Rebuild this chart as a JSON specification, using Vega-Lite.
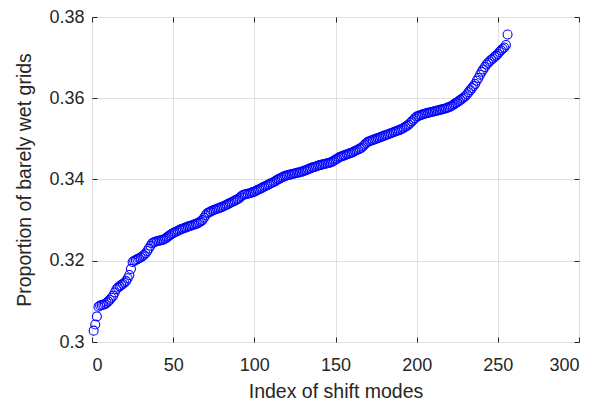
{
  "$schema": "https://vega.github.io/schema/vega-lite/v6.json",
  "width": 487,
  "height": 325,
  "autosize": {"type": "none"},
  "padding": {"left": 92, "top": 17, "right": 27, "bottom": 59},
  "background": "white",
  "config": {
    "view": {"stroke": "#262626", "strokeWidth": 1},
    "font": "Liberation Sans",
    "axis": {
      "domainColor": "#262626",
      "tickColor": "#262626",
      "labelColor": "#262626",
      "titleColor": "#262626",
      "labelFont": "Liberation Sans",
      "titleFont": "Liberation Sans",
      "labelFontSize": 18,
      "titleFontSize": 19.5,
      "titleFontWeight": "normal",
      "gridColor": "#e0e0e0",
      "gridOpacity": 1,
      "tickSize": -5
    }
  },
  "data": {"values": [
{"i":1,"v":0.3028},{"i":2,"v":0.3043},{"i":3,"v":0.3063},{"i":4,"v":0.3087},{"i":5,"v":0.3090},{"i":6,"v":0.3091},{"i":7,"v":0.3092},{"i":8,"v":0.3093},{"i":9,"v":0.3096},{"i":10,"v":0.3100},
{"i":11,"v":0.3104},{"i":12,"v":0.3109},{"i":13,"v":0.3114},{"i":14,"v":0.3122},{"i":15,"v":0.3130},{"i":16,"v":0.3134},{"i":17,"v":0.3137},{"i":18,"v":0.3140},{"i":19,"v":0.3143},{"i":20,"v":0.3146},
{"i":21,"v":0.3150},{"i":22,"v":0.3157},{"i":23,"v":0.3165},{"i":24,"v":0.3180},{"i":25,"v":0.3197},{"i":26,"v":0.3200},{"i":27,"v":0.3202},{"i":28,"v":0.3204},{"i":29,"v":0.3206},{"i":30,"v":0.3208},
{"i":31,"v":0.3211},{"i":32,"v":0.3214},{"i":33,"v":0.3218},{"i":34,"v":0.3224},{"i":35,"v":0.3230},{"i":36,"v":0.3237},{"i":37,"v":0.3243},{"i":38,"v":0.3245},{"i":39,"v":0.3247},{"i":40,"v":0.3248},
{"i":41,"v":0.3249},{"i":42,"v":0.3250},{"i":43,"v":0.3251},{"i":44,"v":0.3252},{"i":45,"v":0.3254},{"i":46,"v":0.3257},{"i":47,"v":0.3260},{"i":48,"v":0.3263},{"i":49,"v":0.3266},{"i":50,"v":0.3268},
{"i":51,"v":0.3270},{"i":52,"v":0.3272},{"i":53,"v":0.3274},{"i":54,"v":0.3276},{"i":55,"v":0.3278},{"i":56,"v":0.3279},{"i":57,"v":0.3281},{"i":58,"v":0.3282},{"i":59,"v":0.3284},{"i":60,"v":0.3285},
{"i":61,"v":0.3286},{"i":62,"v":0.3288},{"i":63,"v":0.3289},{"i":64,"v":0.3291},{"i":65,"v":0.3292},{"i":66,"v":0.3294},{"i":67,"v":0.3297},{"i":68,"v":0.3300},{"i":69,"v":0.3306},{"i":70,"v":0.3312},
{"i":71,"v":0.3317},{"i":72,"v":0.3319},{"i":73,"v":0.3321},{"i":74,"v":0.3323},{"i":75,"v":0.3325},{"i":76,"v":0.3326},{"i":77,"v":0.3328},{"i":78,"v":0.3329},{"i":79,"v":0.3331},{"i":80,"v":0.3332},
{"i":81,"v":0.3334},{"i":82,"v":0.3336},{"i":83,"v":0.3338},{"i":84,"v":0.3340},{"i":85,"v":0.3342},{"i":86,"v":0.3344},{"i":87,"v":0.3346},{"i":88,"v":0.3348},{"i":89,"v":0.3350},{"i":90,"v":0.3352},
{"i":91,"v":0.3355},{"i":92,"v":0.3359},{"i":93,"v":0.3362},{"i":94,"v":0.3363},{"i":95,"v":0.3364},{"i":96,"v":0.3365},{"i":97,"v":0.3366},{"i":98,"v":0.3367},{"i":99,"v":0.3369},{"i":100,"v":0.3370},
{"i":101,"v":0.3372},{"i":102,"v":0.3374},{"i":103,"v":0.3376},{"i":104,"v":0.3378},{"i":105,"v":0.3380},{"i":106,"v":0.3382},{"i":107,"v":0.3384},{"i":108,"v":0.3386},{"i":109,"v":0.3388},{"i":110,"v":0.3390},
{"i":111,"v":0.3392},{"i":112,"v":0.3394},{"i":113,"v":0.3396},{"i":114,"v":0.3399},{"i":115,"v":0.3401},{"i":116,"v":0.3403},{"i":117,"v":0.3405},{"i":118,"v":0.3407},{"i":119,"v":0.3409},{"i":120,"v":0.3410},
{"i":121,"v":0.3411},{"i":122,"v":0.3412},{"i":123,"v":0.3413},{"i":124,"v":0.3414},{"i":125,"v":0.3415},{"i":126,"v":0.3416},{"i":127,"v":0.3417},{"i":128,"v":0.3418},{"i":129,"v":0.3419},{"i":130,"v":0.3420},
{"i":131,"v":0.3422},{"i":132,"v":0.3423},{"i":133,"v":0.3425},{"i":134,"v":0.3427},{"i":135,"v":0.3428},{"i":136,"v":0.3430},{"i":137,"v":0.3431},{"i":138,"v":0.3432},{"i":139,"v":0.3434},{"i":140,"v":0.3435},
{"i":141,"v":0.3436},{"i":142,"v":0.3437},{"i":143,"v":0.3438},{"i":144,"v":0.3439},{"i":145,"v":0.3440},{"i":146,"v":0.3441},{"i":147,"v":0.3442},{"i":148,"v":0.3444},{"i":149,"v":0.3446},{"i":150,"v":0.3449},
{"i":151,"v":0.3451},{"i":152,"v":0.3454},{"i":153,"v":0.3456},{"i":154,"v":0.3457},{"i":155,"v":0.3459},{"i":156,"v":0.3460},{"i":157,"v":0.3462},{"i":158,"v":0.3463},{"i":159,"v":0.3465},{"i":160,"v":0.3466},
{"i":161,"v":0.3468},{"i":162,"v":0.3470},{"i":163,"v":0.3472},{"i":164,"v":0.3474},{"i":165,"v":0.3476},{"i":166,"v":0.3478},{"i":167,"v":0.3482},{"i":168,"v":0.3486},{"i":169,"v":0.3490},{"i":170,"v":0.3493},
{"i":171,"v":0.3494},{"i":172,"v":0.3496},{"i":173,"v":0.3497},{"i":174,"v":0.3499},{"i":175,"v":0.3500},{"i":176,"v":0.3502},{"i":177,"v":0.3503},{"i":178,"v":0.3505},{"i":179,"v":0.3506},{"i":180,"v":0.3508},
{"i":181,"v":0.3509},{"i":182,"v":0.3511},{"i":183,"v":0.3512},{"i":184,"v":0.3514},{"i":185,"v":0.3515},{"i":186,"v":0.3517},{"i":187,"v":0.3518},{"i":188,"v":0.3520},{"i":189,"v":0.3521},{"i":190,"v":0.3523},
{"i":191,"v":0.3525},{"i":192,"v":0.3527},{"i":193,"v":0.3530},{"i":194,"v":0.3532},{"i":195,"v":0.3535},{"i":196,"v":0.3539},{"i":197,"v":0.3543},{"i":198,"v":0.3547},{"i":199,"v":0.3551},{"i":200,"v":0.3555},
{"i":201,"v":0.3556},{"i":202,"v":0.3558},{"i":203,"v":0.3559},{"i":204,"v":0.3561},{"i":205,"v":0.3562},{"i":206,"v":0.3563},{"i":207,"v":0.3564},{"i":208,"v":0.3565},{"i":209,"v":0.3566},{"i":210,"v":0.3567},
{"i":211,"v":0.3568},{"i":212,"v":0.3569},{"i":213,"v":0.3570},{"i":214,"v":0.3571},{"i":215,"v":0.3572},{"i":216,"v":0.3573},{"i":217,"v":0.3574},{"i":218,"v":0.3575},{"i":219,"v":0.3577},{"i":220,"v":0.3578},
{"i":221,"v":0.3580},{"i":222,"v":0.3582},{"i":223,"v":0.3585},{"i":224,"v":0.3588},{"i":225,"v":0.3590},{"i":226,"v":0.3593},{"i":227,"v":0.3596},{"i":228,"v":0.3599},{"i":229,"v":0.3602},{"i":230,"v":0.3605},
{"i":231,"v":0.3610},{"i":232,"v":0.3615},{"i":233,"v":0.3620},{"i":234,"v":0.3625},{"i":235,"v":0.3630},{"i":236,"v":0.3635},{"i":237,"v":0.3643},{"i":238,"v":0.3650},{"i":239,"v":0.3658},{"i":240,"v":0.3665},
{"i":241,"v":0.3671},{"i":242,"v":0.3677},{"i":243,"v":0.3683},{"i":244,"v":0.3687},{"i":245,"v":0.3691},{"i":246,"v":0.3695},{"i":247,"v":0.3698},{"i":248,"v":0.3702},{"i":249,"v":0.3705},{"i":250,"v":0.3709},
{"i":251,"v":0.3714},{"i":252,"v":0.3718},{"i":253,"v":0.3722},{"i":254,"v":0.3725},{"i":255,"v":0.3731},{"i":256,"v":0.3757}
  ]},
  "layer": [
    {
      "mark": {"type": "point", "shape": "circle", "filled": false, "stroke": "#0000ff", "strokeWidth": 1.1, "size": 80, "opacity": 1},
      "encoding": {
        "x": {"field": "i", "type": "quantitative", "scale": {"domain": [0, 300], "nice": false, "zero": false},
              "axis": {"values": [0, 50, 100, 150, 200, 250, 300], "title": "Index of shift modes", "labelBaseline": "alphabetic", "labelPadding": 33, "titleY": 55, "titleBaseline": "alphabetic", "grid": true, "domain": false}},
        "y": {"field": "v", "type": "quantitative", "scale": {"domain": [0.30, 0.38], "nice": false, "zero": false},
              "axis": {"values": [0.30, 0.32, 0.34, 0.36, 0.38], "format": ".2~f", "title": "Proportion of barely wet grids", "labelPadding": 13, "titleX": -62, "titleBaseline": "alphabetic", "grid": true, "domain": false}}
      }
    },
    {
      "mark": {"type": "point", "opacity": 0},
      "encoding": {
        "x": {"field": "i", "type": "quantitative", "scale": {"domain": [0, 300], "nice": false, "zero": false},
              "axis": {"orient": "top", "values": [0, 50, 100, 150, 200, 250, 300], "labels": false, "title": null, "grid": false, "domain": false}},
        "y": {"field": "v", "type": "quantitative", "scale": {"domain": [0.30, 0.38], "nice": false, "zero": false},
              "axis": {"orient": "right", "values": [0.30, 0.32, 0.34, 0.36, 0.38], "labels": false, "title": null, "grid": false, "domain": false}}
      }
    }
  ],
  "resolve": {"axis": {"x": "independent", "y": "independent"}}
}
